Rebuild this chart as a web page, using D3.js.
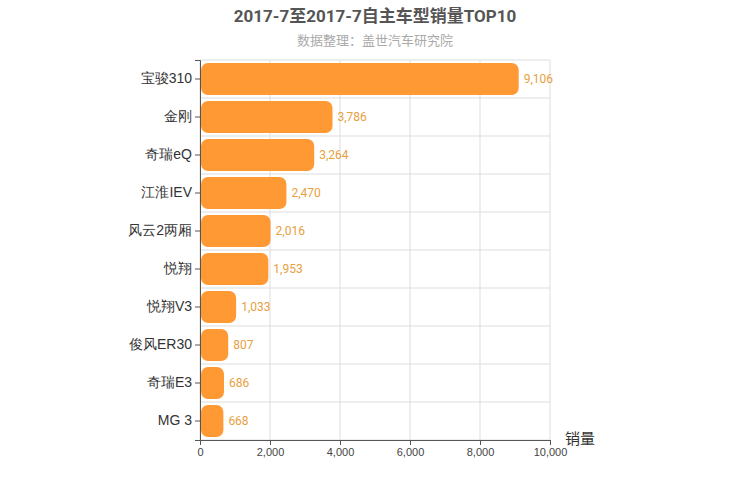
<!DOCTYPE html><html><head><meta charset="utf-8"><script src="https://cdn.jsdelivr.net/npm/d3@7"></script>
<style>body{margin:0;background:#fff;font-family:Roboto,"Noto Sans CJK SC",sans-serif}</style></head><body><svg width="750" height="500"></svg><script>
const categories=["宝骏310","金刚","奇瑞eQ","江淮IEV","风云2两厢","悦翔","悦翔V3","俊风ER30","奇瑞E3","MG 3"];
const values=[9106,3786,3264,2470,2016,1953,1033,807,686,668];
const ticks=[0,2000,4000,6000,8000,10000];
const svg=d3.select("svg"),L=200,R=550,T=60,B=440;
const x=d3.scaleLinear().domain([0,10000]).range([L,R]);
const y=d3.scaleBand().domain(categories).range([T,B]);
const f=d3.format(",");
svg.append("text").attr("x",375).attr("y",22).attr("text-anchor","middle").attr("font-size",17).attr("font-weight","bold").attr("fill","#555").text("2017-7至2017-7自主车型销量TOP10");
svg.append("text").attr("x",375).attr("y",45).attr("text-anchor","middle").attr("font-size",13).attr("fill","#aaa").text("数据整理：盖世汽车研究院");
ticks.forEach(t=>svg.append("line").attr("x1",x(t)).attr("x2",x(t)).attr("y1",T).attr("y2",B).attr("stroke","#ddd"));
categories.forEach(c=>svg.append("line").attr("x1",L).attr("x2",R).attr("y1",y(c)+y.bandwidth()).attr("y2",y(c)+y.bandwidth()).attr("stroke","#ddd"));
svg.append("line").attr("x1",L).attr("x2",R).attr("y1",T).attr("y2",T).attr("stroke","#ddd");
svg.selectAll(".b").data(values).enter().append("rect").attr("x",L+1).attr("y",(d,i)=>y(categories[i])+3).attr("height",y.bandwidth()-6).attr("width",d=>x(d)-L-1).attr("rx",7).attr("fill","#ff9933");
svg.selectAll(".v").data(values).enter().append("text").attr("x",d=>x(d)+5).attr("y",(d,i)=>y(categories[i])+y.bandwidth()/2+4).attr("font-size",12).attr("fill","#e8a040").text(d=>f(d));
const ax=svg.append("g").attr("transform",`translate(0,${B})`).call(d3.axisBottom(x).tickValues(ticks).tickFormat(f).tickSize(5));
ax.selectAll("text").attr("font-size",11).attr("fill","#444");ax.selectAll("line,path").attr("stroke","#555");
const ay=svg.append("g").attr("transform",`translate(${L},0)`).call(d3.axisLeft(y).tickSize(5));
ay.selectAll("text").attr("font-size",14).attr("fill","#333");ay.selectAll("line,path").attr("stroke","#555");
svg.append("text").attr("x",565).attr("y",444).attr("font-size",15).attr("fill","#333").text("销量");
</script></body></html>
